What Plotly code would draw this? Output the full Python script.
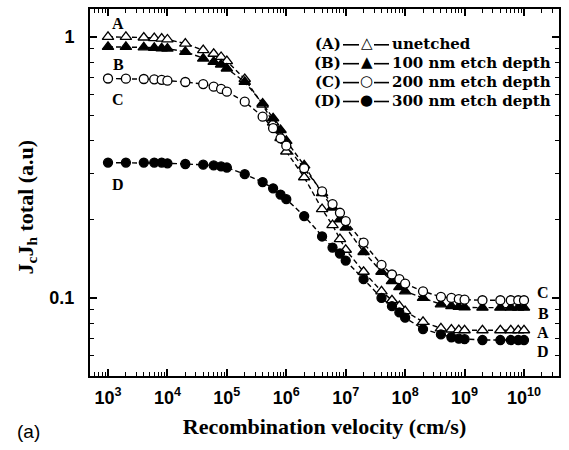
import plotly.graph_objects as go

# ---- data ----
velocity = [1e3, 2e3, 4e3, 6e3, 8e3,
            1e4, 2e4, 4e4, 6e4, 8e4,
            1e5, 2e5, 4e5, 6e5, 8e5,
            1e6, 2e6, 4e6, 6e6, 8e6,
            1e7, 2e7, 4e7, 6e7, 8e7,
            1e8, 2e8, 4e8, 6e8, 8e8,
            1e9, 2e9, 4e9, 6e9, 8e9,
            1e10]

unetched = [1.0, 1.0, 0.995, 0.99, 0.985,
            0.978, 0.943, 0.89, 0.862, 0.838,
            0.808, 0.69, 0.55, 0.47, 0.41,
            0.364, 0.29, 0.219, 0.19, 0.168,
            0.153, 0.126, 0.106, 0.098, 0.093,
            0.089, 0.081, 0.0765, 0.0757, 0.0753,
            0.0752, 0.0752, 0.0752, 0.0752, 0.0752,
            0.0752]

etch100 = [0.916, 0.916, 0.912, 0.908, 0.905,
           0.902, 0.877, 0.826, 0.803, 0.784,
           0.757, 0.673, 0.556, 0.488, 0.44,
           0.40, 0.322, 0.252, 0.222, 0.2,
           0.186, 0.15, 0.126, 0.116, 0.11,
           0.106, 0.1, 0.0945, 0.093, 0.0925,
           0.092, 0.0918, 0.0918, 0.0918, 0.0918,
           0.0918]

etch200 = [0.693, 0.692, 0.69, 0.688, 0.685,
           0.68, 0.672, 0.66, 0.645, 0.632,
           0.617, 0.565, 0.495, 0.447, 0.409,
           0.383, 0.314, 0.256, 0.229, 0.212,
           0.197, 0.163, 0.134, 0.123, 0.118,
           0.1135, 0.106, 0.101, 0.1, 0.099,
           0.0985, 0.098, 0.098, 0.098, 0.098,
           0.098]

etch300 = [0.33, 0.33, 0.33, 0.33, 0.33,
           0.328, 0.326, 0.324, 0.322, 0.319,
           0.316, 0.298, 0.278, 0.263, 0.249,
           0.239, 0.206, 0.172, 0.156, 0.148,
           0.139, 0.118, 0.1, 0.093, 0.088,
           0.084, 0.076, 0.0725, 0.0707, 0.0698,
           0.0695, 0.069, 0.069, 0.069, 0.069,
           0.069]

series_keys = ["A", "B", "C", "D"]
series_names = ["unetched", "100 nm etch depth", "200 nm etch depth", "300 nm etch depth"]
series_values = [unetched, etch100, etch200, etch300]
series_symbols = ["triangle-up", "triangle-up", "circle", "circle"]
series_fill = ["white", "black", "white", "black"]
legend_glyphs = ["\u25B3", "\u25B2", "\u25CB", "\u25CF"]

x_tick_vals = [1e3, 1e4, 1e5, 1e6, 1e7, 1e8, 1e9, 1e10]
x_tick_text = ["10<sup>3</sup>", "10<sup>4</sup>", "10<sup>5</sup>", "10<sup>6</sup>",
               "10<sup>7</sup>", "10<sup>8</sup>", "10<sup>9</sup>", "10<sup>10</sup>"]
y_tick_vals = [0.1, 1]
y_tick_text = ["0.1", "1"]

# ---- layout geometry (pixels of the 569x450 canvas) ----
W, H = 569, 450
L, R, T, B = 90, 559, 7, 376


def px(xp):
    return (xp - L) / (R - L)


def py(yp):
    return (B - yp) / (B - T)


SERIF = "Liberation Serif"
SANS = "Liberation Sans"
LEG_FONT = "DejaVu Serif"

fig = go.Figure()
for k, name, vals, sym, fill in zip(series_keys, series_names, series_values,
                                    series_symbols, series_fill):
    fig.add_trace(go.Scatter(
        x=velocity, y=vals, mode="lines+markers", name=f"({k}) {name}",
        line=dict(color="black", width=1.4, dash="5px,3px"),
        marker=dict(symbol=sym, size=9 if sym == "circle" else 10, color=fill,
                    line=dict(color="black", width=1.3)),
        showlegend=False,
    ))

axis_common = dict(
    showline=True, linecolor="black", linewidth=2, mirror="ticks",
    ticks="inside", ticklen=7, tickwidth=1.5, tickcolor="black",
    showgrid=False, zeroline=False,
    tickfont=dict(family=SANS, size=18, color="black", weight="bold"),
    minor=dict(dtick="D1", ticks="inside", ticklen=4, tickwidth=1, tickcolor="black",
               showgrid=False),
)

fig.update_xaxes(type="log", range=[2.697, 10.589], tickmode="array",
                 tickvals=x_tick_vals, ticktext=x_tick_text, ticklabelstandoff=4,
                 title=dict(text="Recombination velocity (cm/s)", standoff=12,
                            font=dict(family=SERIF, size=22, color="black", weight="bold")),
                 **axis_common)
fig.update_yaxes(type="log", range=[-1.299, 0.107], tickmode="array",
                 tickvals=y_tick_vals, ticktext=y_tick_text, ticklabelstandoff=10,
                 **axis_common)

ann = []
# y-axis title
ann.append(dict(xref="paper", yref="paper", x=px(27), y=py(206.5), textangle=-90,
                text="J<sub>c</sub>J<sub>h</sub> total (a.u)", showarrow=False,
                xanchor="center", yanchor="middle",
                font=dict(family=SERIF, size=22, color="black", weight="bold")))
# panel label
ann.append(dict(xref="paper", yref="paper", x=px(28.5), y=py(432), text="(a)",
                showarrow=False, xanchor="center", yanchor="middle",
                font=dict(family=SANS, size=19, color="black")))

# curve letters
left_label_y = [21.7, 62.7, 98.3, 183.3]
right_label_y = [332.5, 313.3, 292.5, 351]
for k, yl, yr in zip(series_keys, left_label_y, right_label_y):
    for xx, yy in ((118.3, yl), (543.3, yr)):
        ann.append(dict(xref="paper", yref="paper", x=px(xx), y=py(yy), text=k,
                        showarrow=False, xanchor="center", yanchor="middle",
                        font=dict(family=SERIF, size=16, color="black", weight="bold")))

# custom legend
legend_rows = [42, 61, 80, 99]
shapes = []
for k, name, glyph, yrow in zip(series_keys, series_names, legend_glyphs, legend_rows):
    ann.append(dict(xref="paper", yref="paper", x=px(343), y=py(yrow), text=f"({k})",
                    showarrow=False, xanchor="right", yanchor="middle",
                    font=dict(family=LEG_FONT, size=15, color="black", weight="bold")))
    ann.append(dict(xref="paper", yref="paper", x=px(366.5), y=py(yrow - 0.5), text=glyph,
                    showarrow=False, xanchor="center", yanchor="middle",
                    font=dict(family="DejaVu Sans", size=15, color="black")))
    ann.append(dict(xref="paper", yref="paper", x=px(390), y=py(yrow), text=name,
                    showarrow=False, xanchor="left", yanchor="middle",
                    font=dict(family=LEG_FONT, size=15, color="black", weight="bold")))
    for x0, x1 in ((343, 359), (374, 389)):
        shapes.append(dict(type="line", xref="paper", yref="paper",
                           x0=px(x0), x1=px(x1), y0=py(yrow + 1), y1=py(yrow + 1),
                           line=dict(color="black", width=1.6)))

fig.update_layout(
    width=W, height=H,
    margin=dict(l=L, r=W - R, t=T, b=H - B),
    plot_bgcolor="white", paper_bgcolor="white",
    annotations=ann, shapes=shapes,
    showlegend=False,
)

fig.write_html("out.html")
